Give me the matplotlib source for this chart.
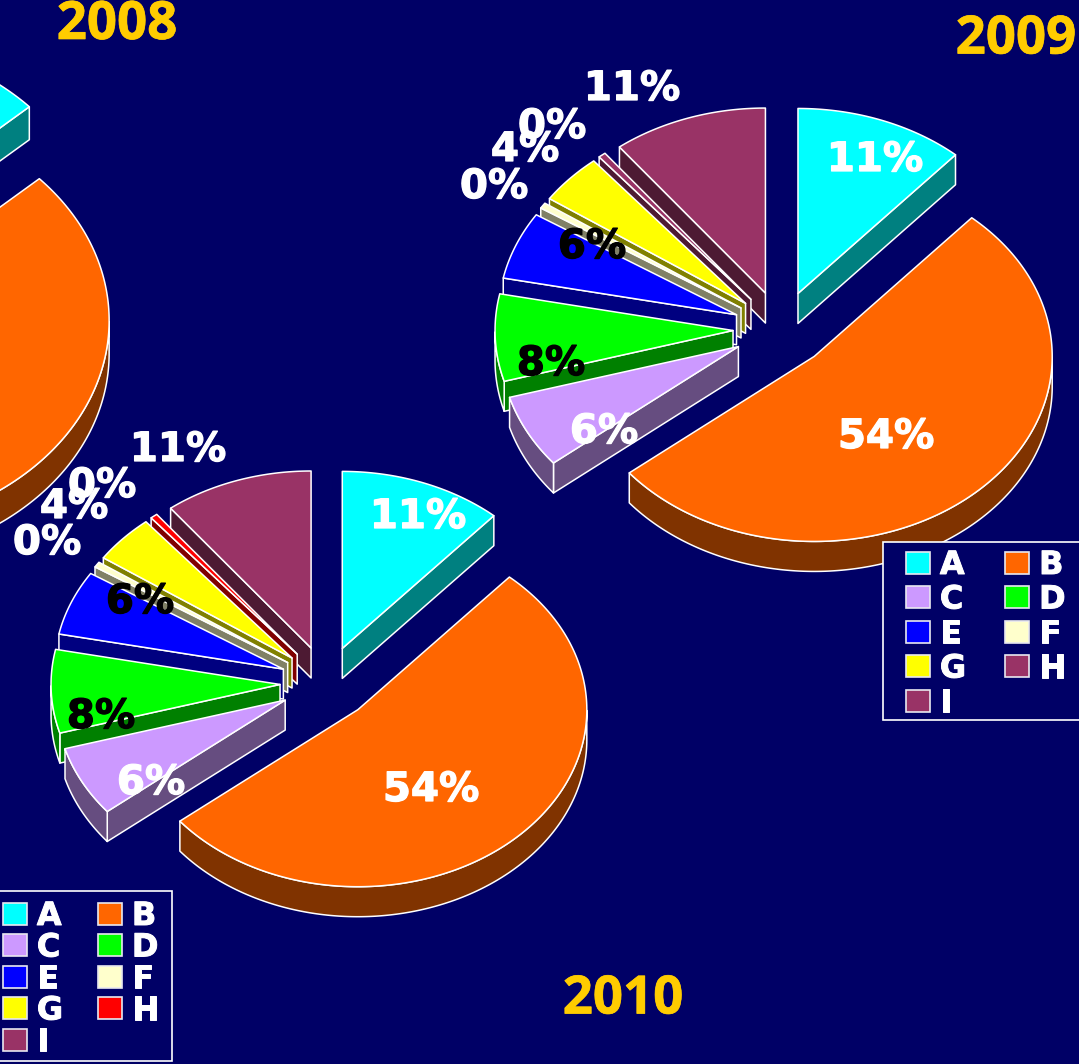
import numpy as np
import matplotlib
matplotlib.use("Agg")
import matplotlib.pyplot as plt
import matplotlib.patheffects as pe
from matplotlib.patches import Polygon, Patch, Rectangle
from matplotlib.colors import to_rgb

categories = ['A', 'B', 'C', 'D', 'E', 'F', 'G', 'H', 'I']
shares_2008 = [13.2, 53.0, 6.0, 7.5, 5.5, 0.5, 4.0, 0.5, 9.8]
shares_2009 = [11.5, 52.6, 6.4, 7.6, 5.9, 0.5, 4.4, 0.5, 10.5]
shares_2010 = [11.5, 52.6, 6.4, 7.6, 5.9, 0.5, 4.4, 0.5, 10.5]
labels_2009 = ['11%', '54%', '6%', '8%', '6%', '0%', '4%', '0%', '11%']
labels_2010 = ['11%', '54%', '6%', '8%', '6%', '0%', '4%', '0%', '11%']
colors_2009 = ['#00FFFF', '#FF6600', '#CC99FF', '#00FF00', '#0000FF', '#FFFFCC', '#FFFF00', '#993366', '#993366']
colors_2010 = ['#00FFFF', '#FF6600', '#CC99FF', '#00FF00', '#0000FF', '#FFFFCC', '#FFFF00', '#FF0000', '#993366']
label_colors = ['white', 'white', 'white', 'black', 'black', 'white', 'white', 'white', 'white']

BG = '#000066'
W, H = 1079, 1064
fig = plt.figure(figsize=(W / 100, H / 100), dpi=100, facecolor=BG)
ax = fig.add_axes([0, 0, 1, 1])
ax.set_xlim(0, W)
ax.set_ylim(H, 0)
ax.axis('off')
EDGE = dict(edgecolor='white', linewidth=1.1, joinstyle='round')


def heavy(color, width=0.9):
    return [pe.withStroke(linewidth=width, foreground=color)]


def pie3d(shares, colors, cx, cy, rx, ry, kx, ky, depth):
    s = np.asarray(shares, float)
    s = s / s.sum() * 360
    a0s = 90 - np.concatenate([[0], np.cumsum(s)[:-1]])
    slices = []
    for i, (a0, sw) in enumerate(zip(a0s, s)):
        mid = np.radians(a0 - sw / 2)
        slices.append((np.sin(mid), i, a0, a0 - sw, mid))
    for _, i, a0, a1, mid in sorted(slices, key=lambda t: -t[0]):
        ax0 = cx + kx * np.cos(mid)
        ay0 = cy - ky * np.sin(mid)
        t = np.radians(np.linspace(a0, a1, max(int(a0 - a1) * 2, 4)))
        xs = ax0 + rx * np.cos(t)
        ys = ay0 - ry * np.sin(t)
        face = colors[i]
        side = tuple(c / 2 for c in to_rgb(face))
        for nrm, px, py in ((a0 + 90, xs[0], ys[0]), (a1 - 90, xs[-1], ys[-1])):
            if np.sin(np.radians(nrm)) < -1e-6:
                ax.add_patch(Polygon([(ax0, ay0), (px, py), (px, py + depth), (ax0, ay0 + depth)],
                                     closed=True, facecolor=side, zorder=2, **EDGE))
        mask = np.sin(t) <= 0
        if mask.any():
            rim = list(zip(xs[mask], ys[mask])) + list(zip(xs[mask][::-1], ys[mask][::-1] + depth))
            ax.add_patch(Polygon(rim, closed=True, facecolor=side, zorder=2, **EDGE))
        top = [(ax0, ay0)] + list(zip(xs, ys))
        ax.add_patch(Polygon(top, closed=True, facecolor=face, zorder=2, **EDGE))


def legend(colors, box, anchor, spacing, colspace):
    ax.add_patch(Rectangle((box[0], box[1]), box[2], box[3], facecolor=BG, edgecolor='white',
                           linewidth=1.2, zorder=4))
    order = [0, 2, 4, 6, 8, 1, 3, 5, 7]
    handles = [Patch(facecolor=colors[i], edgecolor='#E8E8F0', linewidth=1.2, label=categories[i]) for i in order]
    leg = ax.legend(handles=handles, ncol=2, loc='upper left', bbox_to_anchor=anchor,
                    bbox_transform=ax.transData, frameon=False,
                    prop=dict(family='DejaVu Sans', weight='bold', size=23),
                    labelcolor='white', handlelength=0.75, handleheight=0.69,
                    handletextpad=0.31, columnspacing=colspace, labelspacing=spacing,
                    borderpad=0, borderaxespad=0)
    leg.set_zorder(5)
    for txt in leg.get_texts():
        txt.set_path_effects(heavy('white', 0.7))
    return leg


pie3d(shares_2008, colors_2010, -187, 287, 266, 210, 50, 42, 33)
pie3d(shares_2009, colors_2009, 781, 329, 238, 185, 48, 38, 30)
pie3d(shares_2010, colors_2010, 326, 683, 229, 177, 46, 37, 30)

pos_2009 = [(875, 160), (886, 437), (604, 432), (551, 364), (592, 247), (494, 187), (525, 150), (552, 127), (632, 89)]
pos_2010 = [(418, 517), (431, 790), (151, 783), (101, 717), (140, 602), (47, 543), (74, 507), (102, 486), (178, 450)]
for labs, pos in ((labels_2009, pos_2009), (labels_2010, pos_2010)):
    for lab, (x, y), c in zip(labs, pos, label_colors):
        ax.text(x, y, lab, color=c, ha='center', va='center', zorder=6,
                family='DejaVu Sans', weight='bold', fontsize=29, path_effects=heavy(c))

for year, x, y in (('2008', 117, 25), ('2009', 1016, 39.5), ('2010', 623, 999.5)):
    ax.text(x, y, year, color='#FFCC00', ha='center', va='center', zorder=6,
            family='Open Sans', weight='bold', fontsize=38, path_effects=heavy('#FFCC00', 0.5))

ax.add_artist(legend(colors_2009, (883, 542, 200, 178), (906, 550), 0.11, 1.22))
legend(colors_2010, (-20, 890.5, 191.5, 170.5), (3, 901), 0.016, 1.09)

fig.savefig('out.png', dpi=100, facecolor=BG)
